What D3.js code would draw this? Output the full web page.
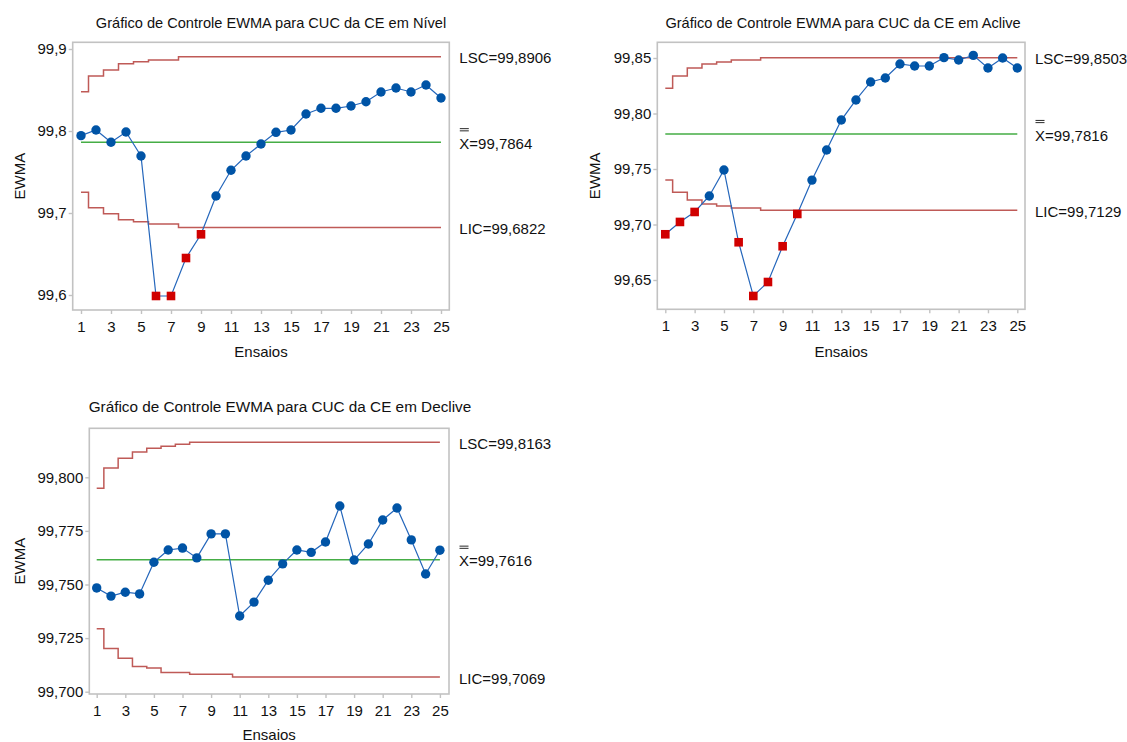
<!DOCTYPE html>
<html>
<head>
<meta charset="utf-8">
<script src="https://cdn.jsdelivr.net/npm/d3@7"></script>
<style>
    html, body { margin: 0; padding: 0; background: #fff; }
    svg { display: block; font-family: "Liberation Sans", Arial, sans-serif; }
</style>
</head>
<body>
<svg id="chart" width="1127" height="742"></svg>
<script>
// Ensaios 1..25 and the odd tick labels shown on every x axis
const ensaios = [1, 2, 3, 4, 5, 6, 7, 8, 9, 10, 11, 12, 13, 14, 15, 16, 17, 18, 19, 20, 21, 22, 23, 24, 25];
const xTicks = [1, 3, 5, 7, 9, 11, 13, 15, 17, 19, 21, 23, 25];

// CE em Nível
const nivelEwma = [99.7943, 99.8012, 99.7863, 99.7988, 99.7695, 99.5988, 99.5988, 99.6451, 99.6740, 99.7207,
    99.7521, 99.7695, 99.7841, 99.7984, 99.8012, 99.8207, 99.8277, 99.8277, 99.8305, 99.8357,
    99.8476, 99.8524, 99.8476, 99.8561, 99.8402];
const nivelLsc = [99.8479, 99.8671, 99.8744, 99.8821, 99.8845, 99.8866, 99.8866, 99.8906, 99.8906, 99.8906,
    99.8906, 99.8906, 99.8906, 99.8906, 99.8906, 99.8906, 99.8906, 99.8906, 99.8906, 99.8906,
    99.8906, 99.8906, 99.8906, 99.8906, 99.8906];
const nivelLic = [99.7252, 99.7065, 99.6991, 99.6918, 99.6894, 99.6866, 99.6866, 99.6822, 99.6822, 99.6822,
    99.6822, 99.6822, 99.6822, 99.6822, 99.6822, 99.6822, 99.6822, 99.6822, 99.6822, 99.6822,
    99.6822, 99.6822, 99.6822, 99.6822, 99.6822];
const nivelCentro = 99.7864;
const nivelFora = [6, 7, 8, 9];
const nivelTicks = [99.6, 99.7, 99.8, 99.9];

// CE em Aclive
const acliveEwma = [99.6912, 99.7023, 99.7113, 99.7257, 99.7491, 99.6840, 99.6356, 99.6482, 99.6804, 99.7095,
    99.7400, 99.7671, 99.7941, 99.8122, 99.8284, 99.8320, 99.8446, 99.8428, 99.8428, 99.8503,
    99.8482, 99.8524, 99.8410, 99.8500, 99.8410];
const acliveLsc = [99.8227, 99.8338, 99.8410, 99.8446, 99.8464, 99.8482, 99.8482, 99.8503, 99.8503, 99.8503,
    99.8503, 99.8503, 99.8503, 99.8503, 99.8503, 99.8503, 99.8503, 99.8503, 99.8503, 99.8503,
    99.8503, 99.8503, 99.8503, 99.8503, 99.8503];
const acliveLic = [99.7400, 99.7290, 99.7220, 99.7185, 99.7167, 99.7149, 99.7149, 99.7129, 99.7129, 99.7129,
    99.7129, 99.7129, 99.7129, 99.7129, 99.7129, 99.7129, 99.7129, 99.7129, 99.7129, 99.7129,
    99.7129, 99.7129, 99.7129, 99.7129, 99.7129];
const acliveCentro = 99.7816;
const acliveFora = [1, 2, 3, 6, 7, 8, 9, 10];
const acliveTicks = [99.65, 99.70, 99.75, 99.80, 99.85];

// CE em Declive
const decliveEwma = [99.7484, 99.7446, 99.7464, 99.7456, 99.7604, 99.7661, 99.7670, 99.7624, 99.7736, 99.7736,
    99.7353, 99.7418, 99.7520, 99.7596, 99.7661, 99.7650, 99.7698, 99.7866, 99.7614, 99.7689,
    99.7801, 99.7857, 99.7708, 99.7549, 99.7660];
const decliveLsc = [99.7949, 99.8043, 99.8089, 99.8118, 99.8135, 99.8145, 99.8154, 99.8163, 99.8163, 99.8163,
    99.8163, 99.8163, 99.8163, 99.8163, 99.8163, 99.8163, 99.8163, 99.8163, 99.8163, 99.8163,
    99.8163, 99.8163, 99.8163, 99.8163, 99.8163];
const decliveLic = [99.7294, 99.7202, 99.7156, 99.7118, 99.7111, 99.7090, 99.7090, 99.7081, 99.7081, 99.7081,
    99.7069, 99.7069, 99.7069, 99.7069, 99.7069, 99.7069, 99.7069, 99.7069, 99.7069, 99.7069,
    99.7069, 99.7069, 99.7069, 99.7069, 99.7069];
const decliveCentro = 99.7616;
const decliveFora = [];
const decliveTicks = [99.700, 99.725, 99.750, 99.775, 99.800];

const ptBR = d3.formatLocale({ decimal: ',', thousands: '.', grouping: [3], currency: ['R$', ''] });

const COLORS = {
    frame: '#c2c2c2',
    limit: '#bf5a57',
    center: '#45ad45',
    line: '#2466bb',
    point: '#0054a6',
    out: '#d00000',
    text: '#111',
};

const svg = d3.select('#chart');

function drawPanel(p) {
    const g = svg.append('g');
    const x = d3.scaleLinear().domain([1, 25]).range(p.xRange);
    const y = d3.scaleLinear().domain(p.yAnchor).range(p.yPix);
    const fmt = ptBR.format(p.tickFmt);
    const fmtLabel = ptBR.format('.4f');

    // frame
    g.append('rect')
        .attr('x', p.frame[0]).attr('y', p.frame[1])
        .attr('width', p.frame[2] - p.frame[0]).attr('height', p.frame[3] - p.frame[1])
        .attr('fill', 'none').attr('stroke', COLORS.frame).attr('stroke-width', 1.6);

    // axes (ticks + labels only, the frame draws the axis line)
    const yAxis = g.append('g')
        .attr('transform', `translate(${p.frame[0]},0)`)
        .call(d3.axisLeft(y).tickValues(p.yTicks).tickFormat(fmt).tickSize(4).tickPadding(2));
    const xAxis = g.append('g')
        .attr('transform', `translate(0,${p.frame[3]})`)
        .call(d3.axisBottom(x).tickValues(xTicks).tickFormat(d3.format('d')).tickSize(4).tickPadding(7));
    [yAxis, xAxis].forEach((a) => {
        a.select('.domain').remove();
        a.selectAll('.tick line').attr('stroke', COLORS.frame).attr('stroke-width', 1.4);
        a.selectAll('.tick text').attr('fill', COLORS.text).attr('font-size', 15).attr('font-family', null);
    });

    // control limits as steps, centre line
    const step = d3.line().x((d, i) => x(ensaios[i])).y((d) => y(d)).curve(d3.curveStep);
    g.append('path').attr('d', step(p.lsc)).attr('fill', 'none')
        .attr('stroke', COLORS.limit).attr('stroke-width', 1.5);
    g.append('path').attr('d', step(p.lic)).attr('fill', 'none')
        .attr('stroke', COLORS.limit).attr('stroke-width', 1.5);
    g.append('line')
        .attr('x1', x(1)).attr('x2', x(25))
        .attr('y1', y(p.centro)).attr('y2', y(p.centro))
        .attr('stroke', COLORS.center).attr('stroke-width', 1.5);

    // EWMA series
    const line = d3.line().x((d, i) => x(ensaios[i])).y((d) => y(d));
    g.append('path').attr('d', line(p.ewma)).attr('fill', 'none')
        .attr('stroke', COLORS.line).attr('stroke-width', 1.2);

    const pts = p.ewma.map((v, i) => ({ n: ensaios[i], v, fora: p.fora.includes(ensaios[i]) }));
    g.selectAll('circle.pt')
        .data(pts.filter((d) => !d.fora))
        .join('circle')
        .attr('class', 'pt')
        .attr('cx', (d) => x(d.n)).attr('cy', (d) => y(d.v))
        .attr('r', 4.7).attr('fill', COLORS.point);
    g.selectAll('rect.pt')
        .data(pts.filter((d) => d.fora))
        .join('rect')
        .attr('class', 'pt')
        .attr('x', (d) => x(d.n) - 4.3).attr('y', (d) => y(d.v) - 4.3)
        .attr('width', 8.6).attr('height', 8.6).attr('fill', COLORS.out);

    // right-hand limit labels
    const lx = p.frame[2] + 10;
    const lab = (val, txt) => g.append('text')
        .attr('x', lx).attr('y', y(val) + 1.5).attr('dy', '0.35em')
        .attr('font-size', 15).attr('fill', COLORS.text).text(txt);
    lab(p.lsc[24], 'LSC=' + fmtLabel(p.lsc[24]));
    lab(p.lic[24], 'LIC=' + fmtLabel(p.lic[24]));
    lab(p.centro, 'X=' + fmtLabel(p.centro));
    const by = y(p.centro) + 1.5;
    [-15, -12.8].forEach((o) => {
        g.append('line')
            .attr('x1', lx + 0.5).attr('x2', lx + 9.5)
            .attr('y1', by + o).attr('y2', by + o)
            .attr('stroke', COLORS.text).attr('stroke-width', 0.9);
    });

    // titles
    g.append('text')
        .attr('x', p.title[0]).attr('y', p.title[1]).attr('dy', '0.35em')
        .attr('text-anchor', 'middle').attr('font-size', p.titleSize).attr('fill', COLORS.text)
        .text(p.titleText);
    g.append('text')
        .attr('transform', `translate(${p.yLabelX},${(p.frame[1] + p.frame[3]) / 2}) rotate(-90)`)
        .attr('dy', '0.35em').attr('text-anchor', 'middle')
        .attr('font-size', 15).attr('fill', COLORS.text).text('EWMA');
    g.append('text')
        .attr('x', (p.frame[0] + p.frame[2]) / 2).attr('y', p.xLabelY).attr('dy', '0.35em')
        .attr('text-anchor', 'middle').attr('font-size', 15).attr('fill', COLORS.text).text('Ensaios');
}

drawPanel({
    titleText: 'Gráfico de Controle EWMA para CUC da CE em Nível',
    ewma: nivelEwma, lsc: nivelLsc, lic: nivelLic, centro: nivelCentro, fora: nivelFora,
    yTicks: nivelTicks, tickFmt: '.1f',
    frame: [72.7, 42.3, 449.3, 310], xRange: [81, 441],
    yAnchor: [99.6, 99.9], yPix: [295, 49],
    title: [271, 22.7], titleSize: 14.6, yLabelX: 19.5, xLabelY: 351.7,
});

drawPanel({
    titleText: 'Gráfico de Controle EWMA para CUC da CE em Aclive',
    ewma: acliveEwma, lsc: acliveLsc, lic: acliveLic, centro: acliveCentro, fora: acliveFora,
    yTicks: acliveTicks, tickFmt: '.2f',
    frame: [657.3, 42.3, 1025, 309.3], xRange: [665.3, 1017.3],
    yAnchor: [99.65, 99.85], yPix: [280, 58],
    title: [843, 22.7], titleSize: 14.6, yLabelX: 595, xLabelY: 351.7,
});

drawPanel({
    titleText: 'Gráfico de Controle EWMA para CUC da CE em Declive',
    ewma: decliveEwma, lsc: decliveLsc, lic: decliveLic, centro: decliveCentro, fora: decliveFora,
    yTicks: decliveTicks, tickFmt: '.3f',
    frame: [89.3, 428.3, 449, 694], xRange: [96.7, 439.9],
    yAnchor: [99.7, 99.8], yPix: [691.7, 477.3],
    title: [280, 406.7], titleSize: 15.3, yLabelX: 19.9, xLabelY: 735,
});
</script>
</body>
</html>
